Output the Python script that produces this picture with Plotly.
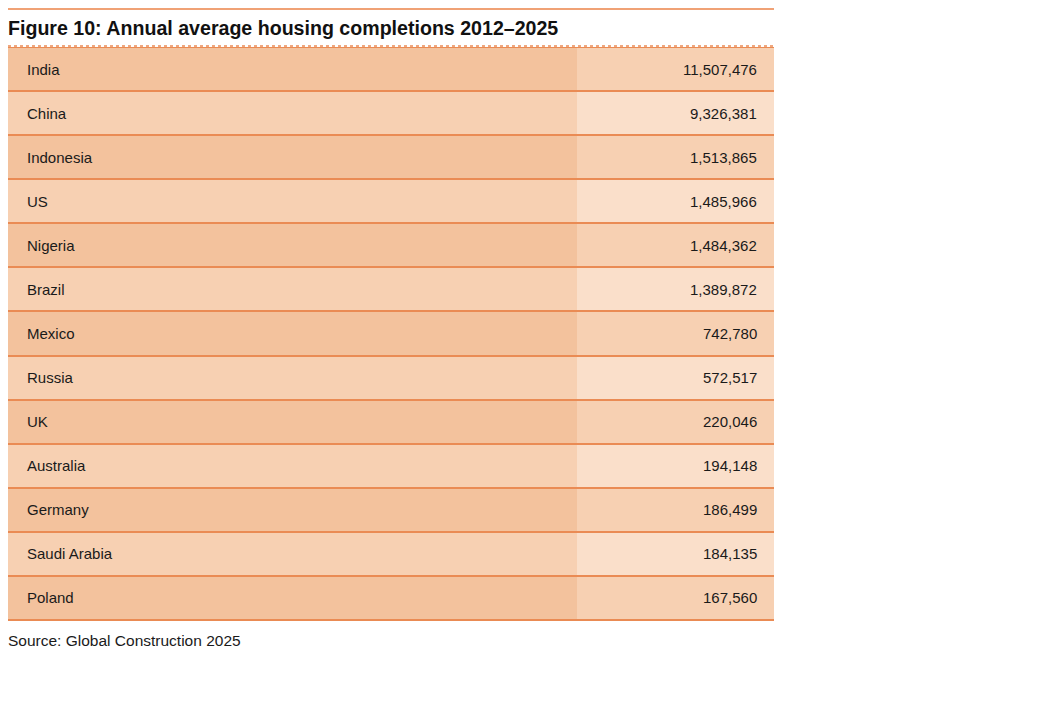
import plotly.graph_objects as go

# ---- data ----
countries = ["India", "China", "Indonesia", "US", "Nigeria", "Brazil", "Mexico",
             "Russia", "UK", "Australia", "Germany", "Saudi Arabia", "Poland"]
completions = [11507476, 9326381, 1513865, 1485966, 1484362, 1389872, 742780,
               572517, 220046, 194148, 186499, 184135, 167560]
title_text = "Figure 10: Annual average housing completions 2012–2025"
source_text = "Source: Global Construction 2025"

# ---- style ----
DARK = "#F3C29D"
MID = "#F7D0B2"
LIGHT = "#FADFCA"
LINE = "#EA8B54"
TOPLINE = "#F0A276"
FONT = "Liberation Sans, Arial, Helvetica, sans-serif"

col_edges = [0, 569, 766]          # column boundaries (left: country, right: value)
n = len(countries)
# shade level per cell: alternate rows, value column one step lighter
z = [[(i % 2), (i % 2) + 1] for i in range(n)]
colorscale = [[0, DARK], [0.5, MID], [1, LIGHT]]

fig = go.Figure()
fig.add_trace(go.Heatmap(
    z=z, x=col_edges, y=list(range(n)),
    colorscale=colorscale, zmin=0, zmax=2, showscale=False,
    ygap=2, xgap=0, hoverinfo="skip",
))

annotations = []
for i, (c, v) in enumerate(zip(countries, completions)):
    annotations.append(dict(x=col_edges[0], y=i, xref="x", yref="y", text=c,
                            xanchor="left", yanchor="middle", xshift=17, showarrow=False,
                            font=dict(family=FONT, size=15, color="#1a1a1a")))
    annotations.append(dict(x=col_edges[-1], y=i, xref="x", yref="y", text=f"{v:,}",
                            xanchor="right", yanchor="middle", xshift=-15, showarrow=False,
                            font=dict(family=FONT, size=15, color="#1a1a1a")))
annotations.append(dict(x=0, y=1, xref="paper", yref="paper", text=f"<b>{title_text}</b>",
                        xanchor="left", yanchor="middle", xshift=-2, yshift=19, showarrow=False,
                        font=dict(family=FONT, size=19.6, color="#111111")))
annotations.append(dict(x=0, y=0, xref="paper", yref="paper", text=source_text,
                        xanchor="left", yanchor="middle", xshift=-2, yshift=-20, showarrow=False,
                        font=dict(family=FONT, size=15.5, color="#1a1a1a")))

shapes = [
    dict(type="line", xref="paper", x0=0, x1=1, yref="paper", ysizemode="pixel",
         yanchor=1, y0=38, y1=38, line=dict(color=TOPLINE, width=2)),
    dict(type="line", xref="paper", x0=0, x1=1, yref="paper", ysizemode="pixel",
         yanchor=1, y0=1, y1=1, line=dict(color=LINE, width=1.5, dash="dot")),
    dict(type="line", xref="paper", x0=0, x1=1, yref="paper", ysizemode="pixel",
         yanchor=0, y0=0, y1=0, line=dict(color=LINE, width=2)),
]

fig.update_layout(
    width=1044, height=728,
    margin=dict(l=0, r=278, t=39, b=116),
    paper_bgcolor="white", plot_bgcolor=LINE,
    xaxis=dict(range=[col_edges[0], col_edges[-1]], visible=False, fixedrange=True),
    yaxis=dict(range=[n - 0.5, -0.5], visible=False, fixedrange=True),
    annotations=annotations, shapes=shapes, showlegend=False,
)
fig.write_html("out.html")
